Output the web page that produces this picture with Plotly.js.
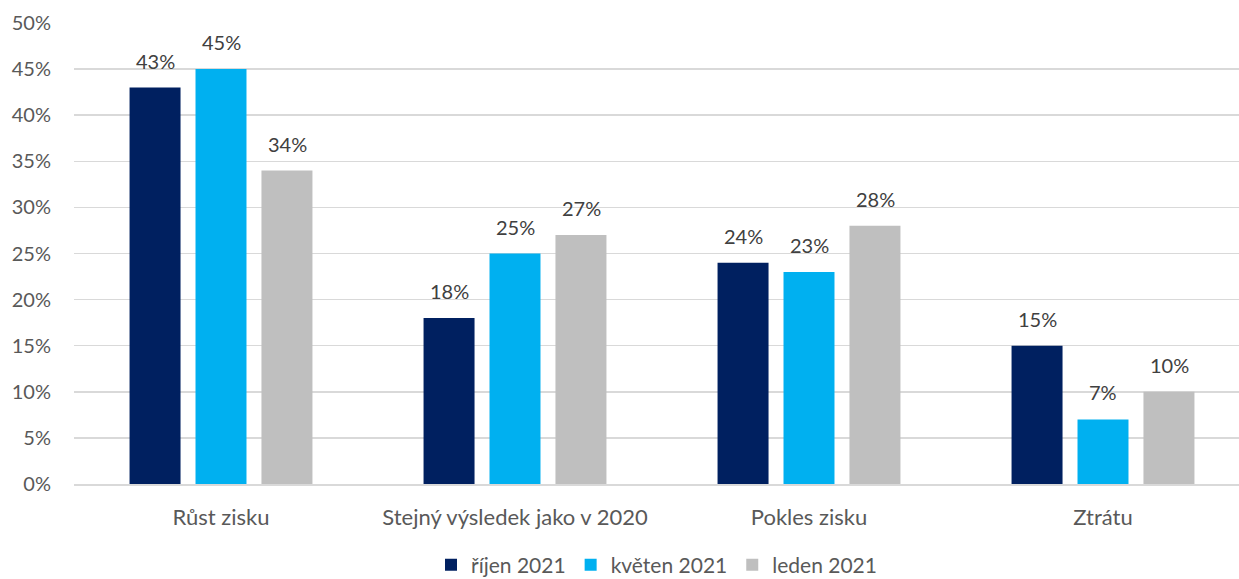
<!DOCTYPE html>
<html>
<head>
<meta charset="utf-8">
<script src="https://cdn.plot.ly/plotly-3.0.1.min.js"></script>
<style>html,body{margin:0;padding:0;background:#fff}#chart{width:1239px;height:579px}</style>
</head>
<body>
<div id="chart"></div>
<script>
const categories = ["Růst zisku", "Stejný výsledek jako v 2020", "Pokles zisku", "Ztrátu"];
const seriesNames = ["říjen 2021", "květen 2021", "leden 2021"];
const rijen2021 = [43, 18, 24, 15];
const kveten2021 = [45, 25, 23, 7];
const leden2021 = [34, 27, 28, 10];
const yTickVals = [0, 5, 10, 15, 20, 25, 30, 35, 40, 45, 50];
const yTickText = yTickVals.map(v => v + "%");

const colors = ["#002060", "#00B0F0", "#BFBFBF"];
const values = [rijen2021, kveten2021, leden2021];
const FONT = "Lato, 'Open Sans', sans-serif";
const SLOT_PX = 66;

const traces = values.map((vals, i) => ({
  type: "bar",
  name: seriesNames[i],
  x: categories,
  y: vals,
  marker: {color: colors[i]},
  hoverinfo: "none"
}));

const annotations = [];
values.forEach((vals, i) => {
  vals.forEach((v, j) => {
    annotations.push({
      x: categories[j], y: v, xref: "x", yref: "y",
      text: v + "%",
      showarrow: false,
      xanchor: "center", yanchor: "bottom",
      xshift: (i - 1) * SLOT_PX,
      yshift: 13,
      font: {family: FONT, size: 20, color: "#404040"}
    });
  });
});

const layout = {
  width: 1239, height: 579,
  margin: {l: 74, r: 0, t: 23, b: 95, autoexpand: false},
  paper_bgcolor: "#fff", plot_bgcolor: "#fff",
  barmode: "group",
  bargap: 0.327,
  bargroupgap: 0.227,
  font: {family: FONT, size: 20, color: "#595959"},
  annotations: annotations,
  xaxis: {
    type: "category",
    range: [-0.5, -0.5 + 1165 / 294],
    showgrid: false,
    showline: true, linecolor: "#D9D9D9", linewidth: 1.5,
    ticks: "",
    ticklabelstandoff: 13,
    tickfont: {family: FONT, size: 22, color: "#595959"}
  },
  yaxis: {
    range: [0, 50],
    tickvals: yTickVals,
    ticktext: yTickText,
    showgrid: true, gridcolor: "#D9D9D9", gridwidth: 1.5,
    zeroline: false,
    showline: false,
    ticks: "",
    ticklabelstandoff: 22,
    tickfont: {family: FONT, size: 20, color: "#595959"}
  },
  showlegend: true,
  legend: {
    orientation: "h",
    x: 0.5, xanchor: "center",
    y: -0.1757, yanchor: "middle",
    font: {family: FONT, size: 21, color: "#595959"},
    itemwidth: 30,
    traceorder: "normal"
  }
};

Plotly.newPlot("chart", traces, layout, {displayModeBar: false, staticPlot: true});
</script>
</body>
</html>
